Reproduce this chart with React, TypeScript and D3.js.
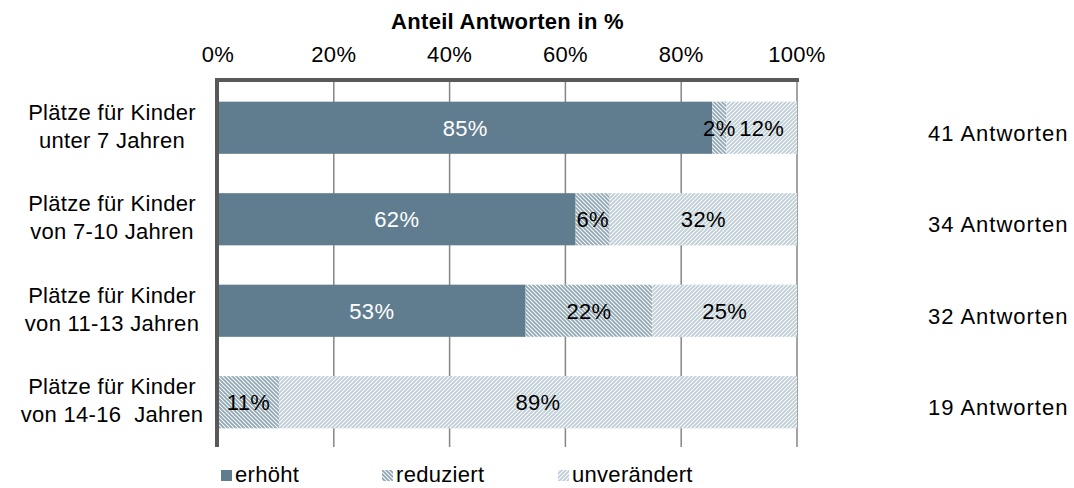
import React from 'react';
import * as d3 from 'd3';

// Survey: change in childcare places, counts of answers per age group
const categories: string[][] = [
  ['Plätze für Kinder', 'unter 7 Jahren'],
  ['Plätze für Kinder', 'von 7-10 Jahren'],
  ['Plätze für Kinder', 'von 11-13 Jahren'],
  ['Plätze für Kinder', 'von 14-16  Jahren'],
];
const seriesNames = ['erhöht', 'reduziert', 'unverändert'];
const erhoeht = [35, 21, 17, 0];
const reduziert = [1, 2, 7, 2];
const unveraendert = [5, 11, 8, 17];
const responses = [41, 34, 32, 19];
const xTicks = [0, 20, 40, 60, 80, 100];
const title = 'Anteil Antworten in %';

const W = 1074;
const H = 488;
const FONT = 'Liberation Sans, Arial, sans-serif';
const FS = 22;

const fills = ['#607D8F', 'url(#patReduziert)', 'url(#patUnveraendert)'];
const labelColors = ['#FFFFFF', '#000000', '#000000'];

export default function App() {
  const x = d3.scaleLinear().domain([0, 100]).range([218, 797]);
  const y = d3
    .scaleBand<number>()
    .domain(d3.range(categories.length))
    .range([82, 448])
    .paddingInner(0.43)
    .paddingOuter(0.215);

  const rows = categories.map((_, i) => ({
    erhöht: (erhoeht[i] / responses[i]) * 100,
    reduziert: (reduziert[i] / responses[i]) * 100,
    unverändert: (unveraendert[i] / responses[i]) * 100,
  }));
  const stack = d3.stack<any>().keys(seriesNames)(rows);

  const bw = y.bandwidth();
  const legendX = [221, 382, 558];

  return (
    <svg
      width={W}
      height={H}
      style={{ position: 'absolute', left: 0, top: 0, background: '#fff' }}
      fontFamily={FONT}
      letterSpacing={0.3}
    >
      <defs>
        <pattern id="patReduziert" patternUnits="userSpaceOnUse" width="4" height="4">
          <rect width="4" height="4" fill="#fff" />
          <path d="M-1,-1 L5,5 M-1,3 L1,5 M3,-1 L5,1" stroke="#93A8B5" strokeWidth="1.9" />
        </pattern>
        <pattern id="patUnveraendert" patternUnits="userSpaceOnUse" width="4" height="4">
          <rect width="4" height="4" fill="#fff" />
          <path d="M-1,5 L5,-1 M-1,1 L1,-1 M3,5 L5,3" stroke="#BFCED7" strokeWidth="1.9" />
        </pattern>
      </defs>

      {/* axis title */}
      <text x={(x(0) + x(100)) / 2} y={29} textAnchor="middle" fontSize={FS} fontWeight="bold" fill="#000">
        {title}
      </text>

      {/* top tick labels */}
      {xTicks.map((t) => (
        <text key={t} x={x(t)} y={62} textAnchor="middle" fontSize={FS} fill="#000">
          {t}%
        </text>
      ))}

      {/* gridlines */}
      {xTicks.slice(1).map((t) => (
        <line key={t} x1={x(t)} x2={x(t)} y1={80} y2={447} stroke="#868686" strokeWidth={1.5} />
      ))}

      {/* bars */}
      {stack.map((layer, si) =>
        layer.map((d, i) => {
          const w = x(d[1]) - x(d[0]);
          if (w <= 0) return null;
          return (
            <rect
              key={`${si}-${i}`}
              x={x(d[0])}
              y={y(i)!}
              width={w}
              height={bw}
              fill={fills[si]}
            />
          );
        })
      )}

      {/* value labels */}
      {stack.map((layer, si) =>
        layer.map((d, i) => {
          const v = d[1] - d[0];
          if (v <= 0) return null;
          return (
            <text
              key={`l-${si}-${i}`}
              x={(x(d[0]) + x(d[1])) / 2}
              y={y(i)! + bw / 2 + 8}
              textAnchor="middle"
              fontSize={FS}
              fill={labelColors[si]}
            >
              {Math.round(v)}%
            </text>
          );
        })
      )}

      {/* axes */}
      <line x1={215} x2={799} y1={80} y2={80} stroke="#595959" strokeWidth={4} />
      <line x1={217} x2={217} y1={78} y2={447} stroke="#595959" strokeWidth={4} />

      {/* category labels */}
      {categories.map((lines, i) => (
        <text
          key={`c-${i}`}
          x={112}
          y={y(i)! + bw / 2 - 8}
          textAnchor="middle"
          fontSize={FS}
          fill="#000"
          style={{ whiteSpace: 'pre' }}
        >
          {lines.map((ln, k) => (
            <tspan key={k} x={112} dy={k === 0 ? 0 : 28}>
              {ln}
            </tspan>
          ))}
        </text>
      ))}

      {/* response counts */}
      {responses.map((n, i) => (
        <text
          key={`n-${i}`}
          x={928}
          y={y(i)! + bw / 2 + 13}
          fontSize={FS}
          fill="#000"
          letterSpacing={1}
        >
          {n} Antworten
        </text>
      ))}

      {/* legend */}
      {seriesNames.map((s, si) => (
        <g key={`lg-${si}`}>
          <rect x={legendX[si]} y={470} width={11} height={11} fill={fills[si]} />
          <text x={legendX[si] + 14} y={482} fontSize={FS} fill="#000">
            {s}
          </text>
        </g>
      ))}
    </svg>
  );
}
